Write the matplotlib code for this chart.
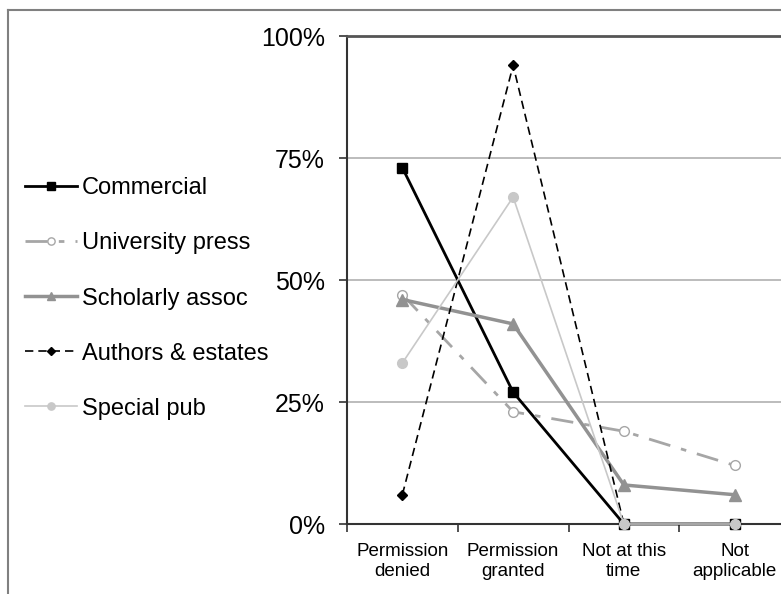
import matplotlib.pyplot as plt
from matplotlib.lines import Line2D

plt.rcParams['font.family'] = ['Liberation Sans', 'DejaVu Sans']

categories = ['Permission\ndenied', 'Permission\ngranted', 'Not at this\ntime', 'Not\napplicable']
commercial = [73, 27, 0, 0]
university = [47, 23, 19, 12]
scholarly = [46, 41, 8, 6]
authors = [6, 94, 0, 0]
special = [33, 67, 0, 0]
yticks = [0, 25, 50, 75, 100]

W, H = 781, 594
fig = plt.figure(figsize=(W / 100, H / 100), dpi=100)

# outer frame (only left and top visible in the picture)
fig.add_artist(Line2D([8 / W, 8 / W], [0, 1 - 10 / H], color='#808080', lw=1.5,
                      transform=fig.transFigure))
fig.add_artist(Line2D([8 / W, 1], [1 - 10 / H, 1 - 10 / H], color='#808080', lw=1.5,
                      transform=fig.transFigure))

ax = fig.add_axes([347 / W, (H - 524) / H, (790 - 347) / W, (524 - 36) / H])
x = range(len(categories))

series = [
    ('Commercial', commercial, dict(color='black', lw=2, ls='-', marker='s', ms=7,
                                   mfc='black', mec='black')),
    ('University press', university, dict(color='#a6a6a6', lw=2, ls=(0, (8, 4, 2, 4)),
                                          marker='o', ms=7, mfc='white', mec='#a6a6a6')),
    ('Scholarly assoc', scholarly, dict(color='#929292', lw=2.5, ls='-', marker='^', ms=8,
                                        mfc='#929292', mec='#929292')),
    ('Authors & estates', authors, dict(color='black', lw=1.2, ls=(0, (5, 3)), marker='D',
                                        ms=5, mfc='black', mec='black')),
    ('Special pub', special, dict(color='#c8c8c8', lw=1.2, ls='-', marker='o', ms=7,
                                  mfc='#c8c8c8', mec='#c8c8c8')),
]

handles = []
for name, vals, st in series:
    h, = ax.plot(x, vals, label=name, clip_on=False, zorder=3, **st)
    handles.append(h)

ax.set_xlim(-0.5, 3.5)
ax.set_ylim(0, 100)
ax.set_yticks(yticks)
ax.set_yticklabels([f'{v}%' for v in yticks], fontsize=18)
ax.set_xticks(list(x))
ax.set_xticklabels(categories, fontsize=13.5)
ax.set_xticks([-0.5, 0.5, 1.5, 2.5, 3.5], minor=True)
ax.tick_params(axis='x', which='major', length=0, pad=14)
ax.tick_params(axis='x', which='minor', length=6, width=1.2, color='#333333', direction='out')
ax.tick_params(axis='y', length=6, width=1.2, color='#333333', direction='out', pad=10)

for v in [25, 50, 75]:
    ax.axhline(v, color='#b0b0b0', lw=1.2, zorder=1)
ax.spines['top'].set_color('#555555')
ax.spines['top'].set_linewidth(2)
ax.spines['right'].set_visible(False)
ax.spines['left'].set_color('#333333')
ax.spines['left'].set_linewidth(1.5)
ax.spines['bottom'].set_color('#333333')
ax.spines['bottom'].set_linewidth(1.5)

fig.legend(handles=handles, loc='upper left', bbox_to_anchor=(16 / W, 1 - 168 / H),
           frameon=False, fontsize=17, handlelength=2.2, handletextpad=0.2,
           labelspacing=1.4, borderaxespad=0, markerscale=0.75)

fig.savefig('out.png', dpi=100)
